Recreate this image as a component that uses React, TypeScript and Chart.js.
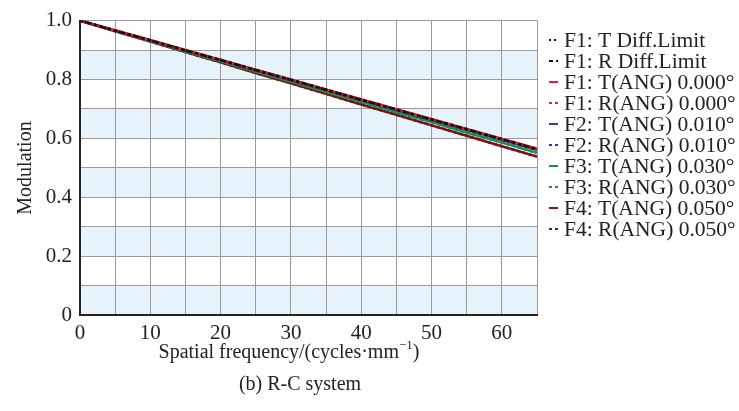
import React, { useEffect, useRef } from "react";
import { Chart, registerables } from "chart.js";

Chart.register(...registerables);

const frequencies = [0, 5, 10, 15, 20, 25, 30, 35, 40, 45, 50, 55, 60, 65];
const diffLimitT = [1.0, 0.966, 0.933, 0.899, 0.866, 0.832, 0.799, 0.765, 0.731, 0.698, 0.664, 0.631, 0.597, 0.563];
const diffLimitR = [1.0, 0.966, 0.933, 0.899, 0.866, 0.832, 0.799, 0.765, 0.731, 0.698, 0.664, 0.631, 0.597, 0.563];
const f1T = [1.0, 0.967, 0.934, 0.9, 0.867, 0.833, 0.8, 0.766, 0.733, 0.699, 0.666, 0.632, 0.599, 0.565];
const f1R = [1.0, 0.966, 0.933, 0.899, 0.866, 0.832, 0.799, 0.765, 0.731, 0.698, 0.664, 0.631, 0.597, 0.563];
const f2T = [1.0, 0.966, 0.932, 0.898, 0.865, 0.831, 0.797, 0.764, 0.73, 0.696, 0.662, 0.629, 0.595, 0.561];
const f2R = [1.0, 0.966, 0.932, 0.898, 0.865, 0.831, 0.797, 0.764, 0.73, 0.696, 0.662, 0.629, 0.595, 0.561];
const f3T = [1.0, 0.965, 0.931, 0.896, 0.862, 0.827, 0.793, 0.758, 0.724, 0.689, 0.655, 0.62, 0.586, 0.551];
const f3R = [1.0, 0.965, 0.931, 0.896, 0.862, 0.827, 0.793, 0.758, 0.724, 0.689, 0.655, 0.62, 0.586, 0.551];
const f4T = [1.0, 0.964, 0.929, 0.893, 0.858, 0.822, 0.787, 0.751, 0.715, 0.68, 0.644, 0.609, 0.573, 0.538];
const f4R = [1.0, 0.964, 0.929, 0.893, 0.858, 0.822, 0.787, 0.751, 0.715, 0.68, 0.644, 0.609, 0.573, 0.538];

const seriesLabels = [
  "F1: T Diff.Limit",
  "F1: R Diff.Limit",
  "F1: T(ANG) 0.000°",
  "F1: R(ANG) 0.000°",
  "F2: T(ANG) 0.010°",
  "F2: R(ANG) 0.010°",
  "F3: T(ANG) 0.030°",
  "F3: R(ANG) 0.030°",
  "F4: T(ANG) 0.050°",
  "F4: R(ANG) 0.050°",
];
const seriesData = [diffLimitT, diffLimitR, f1T, f1R, f2T, f2R, f3T, f3R, f4T, f4R];
const seriesColors = ["#111111", "#111111", "#e8202a", "#e8202a", "#2a3fb0", "#2a3fb0", "#16924a", "#16924a", "#7a1418", "#7a1418"];
const seriesDash = [[2, 3], [4, 3], [], [3, 3], [], [3, 3], [], [3, 3], [], [3, 3]];

const FONT = "'Liberation Serif', 'Times New Roman', serif";

export default function App() {
  const ref = useRef<HTMLCanvasElement>(null);
  useEffect(() => {
    const canvas = ref.current!;
    const bands = {
      id: "bands",
      beforeDraw(chart: any) {
        const { ctx, chartArea, scales } = chart;
        const y = scales.y;
        ctx.save();
        ctx.fillStyle = "#e6f3fb";
        for (let b = 0; b < 10; b += 2) {
          const y0 = y.getPixelForValue(b / 10);
          const y1 = y.getPixelForValue((b + 1) / 10);
          ctx.fillRect(chartArea.left, y1, chartArea.right - chartArea.left, y0 - y1);
        }
        ctx.restore();
      },
    };
    const texts = {
      id: "texts",
      afterDraw(chart: any) {
        const { ctx } = chart;
        ctx.save();
        ctx.fillStyle = "#222";
        ctx.font = `20px ${FONT}`;
        ctx.textAlign = "center";
        ctx.textBaseline = "middle";
        ctx.save();
        ctx.translate(26, 168);
        ctx.rotate(-Math.PI / 2);
        ctx.fillText("Modulation", 0, 0);
        ctx.restore();
        const main = "Spatial frequency/(cycles·mm";
        const sup = "−1";
        const close = ")";
        ctx.font = `20px ${FONT}`;
        const wMain = ctx.measureText(main).width;
        const wClose = ctx.measureText(close).width;
        ctx.font = `13px ${FONT}`;
        const wSup = ctx.measureText(sup).width;
        const total = wMain + wSup + wClose;
        let x = 289 - total / 2;
        ctx.textAlign = "left";
        ctx.font = `20px ${FONT}`;
        ctx.fillText(main, x, 353);
        x += wMain;
        ctx.font = `13px ${FONT}`;
        ctx.fillText(sup, x, 346);
        x += wSup;
        ctx.font = `20px ${FONT}`;
        ctx.fillText(close, x, 353);
        ctx.textAlign = "center";
        ctx.fillText("(b) R-C system", 300, 385);
        ctx.textAlign = "left";
        ctx.font = `21.5px ${FONT}`;
        chart.data.datasets.forEach((ds: any, i: number) => {
          const yy = 40 + i * 21;
          ctx.strokeStyle = ds.borderColor;
          ctx.lineWidth = 2;
          ctx.setLineDash(ds.borderDash || []);
          ctx.beginPath();
          ctx.moveTo(549, yy);
          ctx.lineTo(558, yy);
          ctx.stroke();
          ctx.setLineDash([]);
          ctx.fillStyle = "#222";
          ctx.fillText(ds.label, 564, yy + 1);
        });
        ctx.restore();
      },
    };
    const chart = new Chart(canvas, {
      type: "line",
      data: {
        datasets: seriesLabels.map((label, i) => ({
          label,
          data: frequencies.map((f, j) => ({ x: f, y: seriesData[i][j] })),
          borderColor: seriesColors[i],
          backgroundColor: seriesColors[i],
          borderDash: seriesDash[i],
          borderWidth: 2.5,
          pointRadius: 0,
          tension: 0,
          fill: false,
        })),
      },
      options: {
        responsive: false,
        animation: false,
        events: [],
        layout: { padding: { left: 0, top: 15, right: 202, bottom: 0 } },
        plugins: { legend: { display: false }, tooltip: { enabled: false } },
        scales: {
          x: {
            type: "linear",
            min: 0,
            max: 65,
            afterFit(s: any) {
              s.height = 96;
            },
            grid: { color: "#9a9a9a", lineWidth: 1, drawTicks: false },
            border: { color: "#222", width: 2 },
            ticks: {
              stepSize: 5,
              autoSkip: false,
              maxRotation: 0,
              padding: 6,
              color: "#222",
              font: { family: FONT, size: 21 },
              callback: (v: any) => (Number(v) % 10 === 0 ? String(v) : ""),
            },
          },
          y: {
            min: 0,
            max: 1,
            afterFit(s: any) {
              s.width = 80;
            },
            grid: { color: "#9a9a9a", lineWidth: 1, drawTicks: false },
            border: { color: "#222", width: 2 },
            ticks: {
              stepSize: 0.1,
              autoSkip: false,
              padding: 8,
              color: "#222",
              font: { family: FONT, size: 21 },
              callback: (v: any) => {
                const n = Math.round(Number(v) * 10);
                if (n % 2 !== 0) return "";
                return n === 0 ? "0" : (n / 10).toFixed(1);
              },
            },
          },
        },
      },
      plugins: [bands, texts],
    } as any);
    return () => chart.destroy();
  }, []);
  return (
    <div style={{ position: "fixed", left: 0, top: 0, width: 739, height: 411, background: "#fff" }}>
      <canvas ref={ref} width={739} height={411} style={{ width: 739, height: 411 }} />
    </div>
  );
}
